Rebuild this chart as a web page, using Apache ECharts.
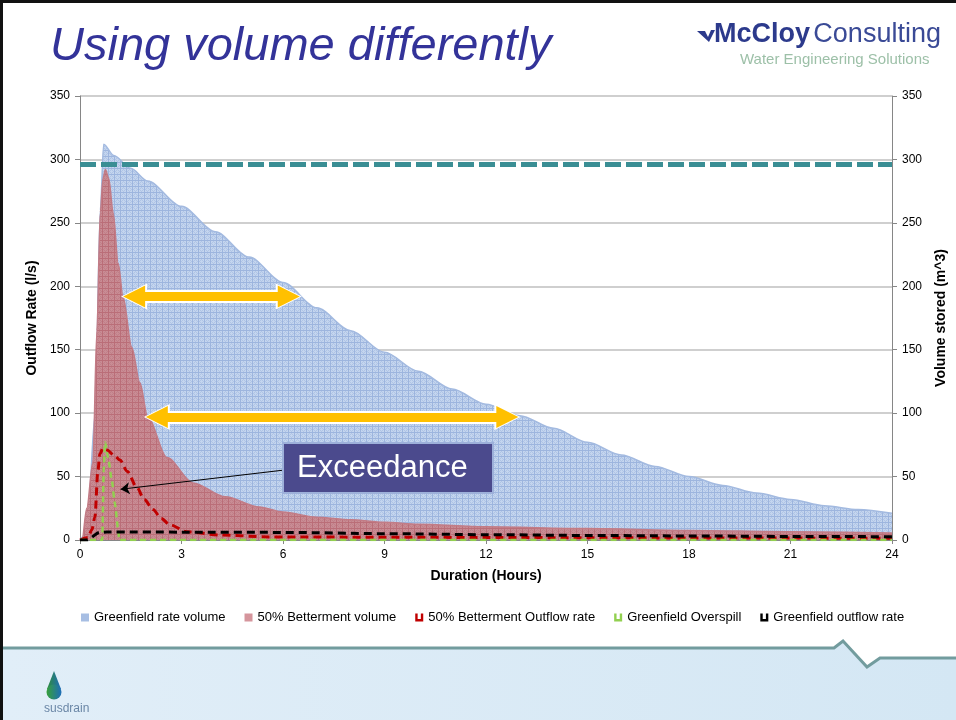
<!DOCTYPE html>
<html>
<head>
<meta charset="utf-8">
<script src="https://cdn.jsdelivr.net/npm/echarts@6/dist/echarts.min.js"></script>
<style>
  html, body { margin: 0; padding: 0; background: #fff; }
  #main { width: 956px; height: 720px; }
</style>
</head>
<body>
<div id="main"></div>
<script>
// durations (hours) and values
var greenfieldVolT = [0, 0.2, 0.45, 0.6, 0.7, 1, 1.5, 2, 3, 4, 5, 6, 7, 8, 9, 10, 11, 12, 13, 14, 15, 16, 17, 18, 19, 20, 21, 22, 23, 24];
var greenfieldVolV = [0, 5, 100, 260, 312, 303, 293, 283, 263, 243, 223, 203, 183, 165, 148, 133, 119, 107, 98, 88, 77, 67, 58, 50, 43, 37, 32, 27, 24, 21];

var bettermentVolT = [0, 0.06, 0.2, 0.38, 0.5, 0.6, 0.68, 0.75, 0.85, 0.98, 1.13, 1.27, 1.53, 1.77, 2.0, 2.57, 3.34, 4.3, 5.3, 6, 7, 8, 9, 10, 12, 15, 18, 21, 24];
var bettermentVolV = [0, 0, 25, 61, 165, 258, 285, 292, 285, 258, 218, 192, 152, 124, 97, 65, 45, 34, 26, 22, 18, 16, 14, 12.5, 10.5, 9, 7.5, 6.5, 5.5];

var bettermentRateT = [0, 0.24, 0.35, 0.44, 0.53, 0.59, 0.68, 0.8, 1.0, 1.18, 1.4, 1.67, 1.9, 2.16, 2.4, 2.66, 3.15, 4.13, 5.6, 9, 12, 15, 18, 21, 24];
var bettermentRateV = [0, 2, 8, 18, 55, 68, 72.5, 71, 67, 63, 54, 42, 32, 24, 17, 12, 6.5, 4, 2.4, 2.2, 2, 1.8, 1.6, 1.5, 1.3];

var overspillT = [0, 0.66, 0.7, 0.74, 0.83, 0.94, 1.03, 1.12, 1.16, 24];
var overspillV = [0, 0, 55, 77, 65, 47, 29, 10, 0, 0];

var greenfieldRateT = [0, 0.2, 0.59, 0.8, 3, 6, 9, 12, 15, 18, 21, 24];
var greenfieldRateV = [0, 0, 6, 6.3, 6.2, 6, 5, 4.2, 3.6, 3.2, 2.8, 2.6];

var storageLimit = 296;
// double arrows: [t start, t end, level]
var arrowA = [1.6, 6.17, 192];
var arrowB = [2.27, 12.63, 97];
var pointerFrom = [5.99, 55];
var pointerTo = [1.2, 40];

var legendNames = ['Greenfield rate volume', '50% Betterment volume', '50% Betterment Outflow rate', 'Greenfield Overspill', 'Greenfield outflow rate'];

function pairs(t, v) {
    return t.map(function (x, i) { return [x, v[i]]; });
}

function makePattern(base, dot, line) {
    var c = document.createElement('canvas');
    c.width = 6; c.height = 6;
    var g = c.getContext('2d');
    g.fillStyle = base; g.fillRect(0, 0, 6, 6);
    g.fillStyle = dot;
    g.fillRect(2, 2, 1, 1); g.fillRect(4, 4, 1, 1); g.fillRect(4, 2, 1, 1); g.fillRect(2, 4, 1, 1);
    g.fillRect(3, 1, 1, 1); g.fillRect(1, 3, 1, 1); g.fillRect(5, 3, 1, 1); g.fillRect(3, 5, 1, 1);
    g.fillStyle = line;
    g.fillRect(0, 0, 6, 1); g.fillRect(0, 0, 1, 6);
    return c;
}

var bluePattern = makePattern('#C4D5EE', '#AFC4E6', '#9DB5DE');
var redPattern = makePattern('#C98C94', '#C07F88', '#BA6E78');

var uIcon = 'path://M0,0 L3,0 L3,7 L7,7 L7,0 L10,0 L10,10 L0,10 Z';
var font = 'Arial, "Liberation Sans", sans-serif';

var myChart = echarts.init(document.getElementById('main'));
myChart.setOption({
    animation: false,
    backgroundColor: '#fff',
    textStyle: { fontFamily: font },
    title: {
        text: 'Using volume differently',
        left: 45, top: 18,
        textStyle: { fontSize: 47, fontStyle: 'italic', fontWeight: 'normal', color: '#333399', fontFamily: font }
    },
    grid: { left: 80, right: 63, top: 96, bottom: 180 },
    legend: {
        left: 76, top: 606,
        itemWidth: 8, itemHeight: 8, itemGap: 19,
        textStyle: { fontSize: 13, color: '#000', fontFamily: font },
        data: [
            { name: legendNames[0], icon: 'rect', itemStyle: { color: '#A7BEE3' } },
            { name: legendNames[1], icon: 'rect', itemStyle: { color: '#D5959C' } },
            { name: legendNames[2], icon: uIcon, itemStyle: { color: '#C00000' } },
            { name: legendNames[3], icon: uIcon, itemStyle: { color: '#92D050' } },
            { name: legendNames[4], icon: uIcon, itemStyle: { color: '#000' } }
        ]
    },
    xAxis: {
        type: 'value', min: 0, max: 24, interval: 3,
        name: 'Duration (Hours)', nameLocation: 'middle', nameGap: 29,
        nameTextStyle: { fontWeight: 'bold', fontSize: 14, color: '#000' },
        axisLine: { lineStyle: { color: '#868686' } },
        axisTick: { show: true, length: 4, lineStyle: { color: '#868686' } },
        axisLabel: { fontSize: 12, color: '#000', margin: 9 },
        splitLine: { show: false }
    },
    yAxis: [{
        type: 'value', min: 0, max: 350, interval: 50,
        name: 'Outflow Rate (l/s)', nameLocation: 'middle', nameGap: 40,
        nameTextStyle: { fontWeight: 'bold', fontSize: 14, color: '#000' },
        axisLine: { show: true, lineStyle: { color: '#868686' } },
        axisTick: { show: true, length: 5, lineStyle: { color: '#868686' } },
        axisLabel: { fontSize: 12, color: '#000', margin: 10 },
        splitLine: { lineStyle: { color: '#BFBFBF', width: 1.5 } }
    }, {
        type: 'value', min: 0, max: 350, interval: 50,
        name: 'Volume stored (m^3)', nameLocation: 'middle', nameGap: 42, nameRotate: 90,
        nameTextStyle: { fontWeight: 'bold', fontSize: 14, color: '#000' },
        axisLine: { show: true, lineStyle: { color: '#868686' } },
        axisTick: { show: true, length: 5, lineStyle: { color: '#868686' } },
        axisLabel: { fontSize: 12, color: '#000', margin: 10 },
        splitLine: { show: false }
    }],
    series: [
        {
            name: legendNames[0], type: 'line', yAxisIndex: 1,
            data: pairs(greenfieldVolT, greenfieldVolV),
            smooth: 0.3, smoothMonotone: 'x', showSymbol: false,
            lineStyle: { width: 1.5, color: '#A3BAE0' },
            areaStyle: { color: { image: bluePattern, repeat: 'repeat' }, opacity: 1 },
            z: 1
        },
        {
            name: legendNames[1], type: 'line', yAxisIndex: 1,
            data: pairs(bettermentVolT, bettermentVolV),
            smooth: 0.3, smoothMonotone: 'x', showSymbol: false,
            lineStyle: { width: 1.5, color: '#C27C86' },
            areaStyle: { color: { image: redPattern, repeat: 'repeat' }, opacity: 1 },
            z: 2
        },
        {
            name: legendNames[2], type: 'line',
            data: pairs(bettermentRateT, bettermentRateV),
            smooth: 0.3, smoothMonotone: 'x', showSymbol: false,
            lineStyle: { color: '#C00000', width: 3, type: [8, 5] },
            z: 4
        },
        {
            name: legendNames[3], type: 'line',
            data: pairs(overspillT, overspillV),
            smooth: 0.2, smoothMonotone: 'x', showSymbol: false,
            lineStyle: { color: '#92D050', width: 2.5, type: [6, 4] },
            z: 5
        },
        {
            name: legendNames[4], type: 'line',
            data: pairs(greenfieldRateT, greenfieldRateV),
            smooth: 0.3, smoothMonotone: 'x', showSymbol: false,
            lineStyle: { color: '#000', width: 3, type: [8, 5] },
            z: 6,
            markLine: {
                silent: true, symbol: 'none', animation: false,
                label: { show: false },
                data: [
                    [{ coord: [0, storageLimit], lineStyle: { color: '#3A8E94', width: 5, type: [16, 5] } },
                     { coord: [24, storageLimit] }],
                    [{ coord: [arrowA[0], arrowA[2]], symbol: 'triangle', symbolSize: 26, lineStyle: { color: '#fff', width: 13, type: 'solid' } },
                     { coord: [arrowA[1], arrowA[2]], symbol: 'triangle', symbolSize: 26 }],
                    [{ coord: [arrowA[0], arrowA[2]], symbol: 'triangle', symbolSize: 22, lineStyle: { color: '#FFC000', width: 9, type: 'solid' } },
                     { coord: [arrowA[1], arrowA[2]], symbol: 'triangle', symbolSize: 22 }],
                    [{ coord: [arrowB[0], arrowB[2]], symbol: 'triangle', symbolSize: 26, lineStyle: { color: '#fff', width: 13, type: 'solid' } },
                     { coord: [arrowB[1], arrowB[2]], symbol: 'triangle', symbolSize: 26 }],
                    [{ coord: [arrowB[0], arrowB[2]], symbol: 'triangle', symbolSize: 22, lineStyle: { color: '#FFC000', width: 9, type: 'solid' } },
                     { coord: [arrowB[1], arrowB[2]], symbol: 'triangle', symbolSize: 22 }],
                    [{ coord: pointerFrom, symbol: 'none', lineStyle: { color: '#000', width: 1, type: 'solid' } },
                     { coord: pointerTo, symbol: 'arrow', symbolSize: 9 }]
                ]
            }
        }
    ],
    graphic: [
        // slide frame
        { type: 'rect', shape: { x: 0, y: 0, width: 956, height: 3 }, style: { fill: '#111' }, z: 100 },
        { type: 'rect', shape: { x: 0, y: 0, width: 3, height: 720 }, style: { fill: '#111' }, z: 100 },
        // footer band
        { type: 'polygon', shape: { points: [[3, 649], [834, 649], [843, 642], [867, 668], [880, 659], [956, 659], [956, 720], [3, 720]] },
          style: { fill: new echarts.graphic.LinearGradient(0, 0, 1, 0, [{ offset: 0, color: '#E1EEF8' }, { offset: 1, color: '#D4E7F4' }]) }, z: 90 },
        { type: 'polyline', shape: { points: [[3, 648], [834, 648], [843, 641], [867, 667], [880, 658], [956, 658]] },
          style: { stroke: '#729C9E', lineWidth: 3, fill: null }, z: 91 },
        // susdrain logo
        { type: 'polygon', shape: { points: [[54, 671], [47, 689], [61, 689]] },
          style: { fill: new echarts.graphic.LinearGradient(0, 0, 1, 0, [{ offset: 0, color: '#2E8B3E' }, { offset: 1, color: '#1E6DB8' }]) }, z: 92 },
        { type: 'circle', shape: { cx: 54, cy: 692, r: 7.5 },
          style: { fill: new echarts.graphic.LinearGradient(0, 0, 1, 0, [{ offset: 0, color: '#37A03A' }, { offset: 1, color: '#1E6DB8' }]) }, z: 92 },
        { type: 'text', x: 44, y: 703, style: { text: 'susdrain', fontSize: 12, fill: '#6A86A6', fontFamily: font }, z: 92 },
        // McCloy logo
        { type: 'polygon', shape: { points: [[697, 31], [705, 31], [708, 37], [711, 30], [715, 30], [709, 42]] }, style: { fill: '#2C3A8C' }, z: 92 },
        { type: 'text', x: 714, y: 21,
          style: { text: '{b|McCloy} {r|Consulting}', fontFamily: font,
                   rich: { b: { fontSize: 27, fontWeight: 'bold', fill: '#2C3A8C', fontFamily: font },
                           r: { fontSize: 27, fill: '#3A4A96', fontFamily: font } } }, z: 92 },
        { type: 'text', x: 740, y: 52, style: { text: 'Water Engineering Solutions', fontSize: 15, fill: '#9DC0A8', fontFamily: font }, z: 92 },
        // Exceedance box
        { type: 'rect', shape: { x: 283, y: 443, width: 210, height: 50 },
          style: { fill: '#4B4A8D', stroke: '#9DB0DA', lineWidth: 2 }, z: 50 },
        { type: 'text', x: 297, y: 468,
          style: { text: 'Exceedance', fontSize: 31, fill: '#fff', fontFamily: font, verticalAlign: 'middle' }, z: 51 }
    ]
});
</script>
</body>
</html>
